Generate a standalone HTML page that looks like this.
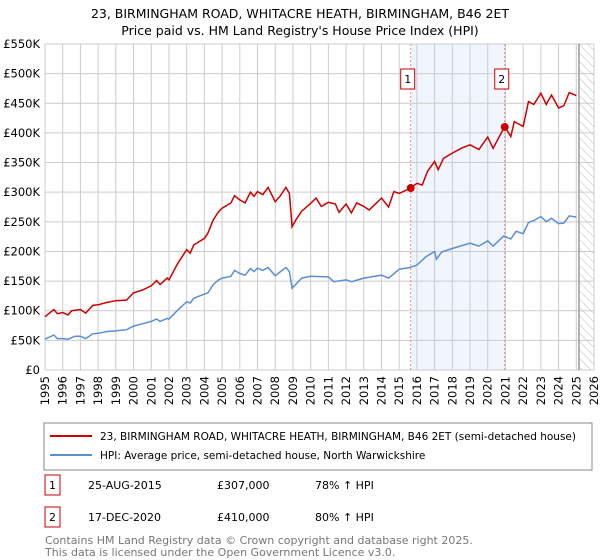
<!DOCTYPE html>
<html><head><meta charset="utf-8"><style>
body{margin:0;background:#fff;font-family:"Liberation Sans","DejaVu Sans",sans-serif;}
#wrap{position:relative;width:600px;height:560px;overflow:hidden;}
svg text{font-family:"DejaVu Sans","Liberation Sans",sans-serif;}
</style></head><body><div id="wrap">
<svg id="chart" width="600" height="560">
<text x="300" y="18" text-anchor="middle" font-size="12.5">23, BIRMINGHAM ROAD, WHITACRE HEATH, BIRMINGHAM, B46 2ET</text>
<text x="300" y="35" text-anchor="middle" font-size="12.5">Price paid vs. HM Land Registry's House Price Index (HPI)</text>
<g id="grid"></g><g id="marks"></g><g id="axes"></g>
<rect x="44" y="423" width="548" height="47" fill="none" stroke="#888"/>
<line x1="50" y1="436" x2="92" y2="436" stroke="#cc0000" stroke-width="2"/>
<text x="100" y="440" font-size="10.5" textLength="476" lengthAdjust="spacingAndGlyphs">23, BIRMINGHAM ROAD, WHITACRE HEATH, BIRMINGHAM, B46 2ET (semi-detached house)</text>
<line x1="50" y1="455" x2="92" y2="455" stroke="#5b8ed6" stroke-width="2"/>
<text x="100" y="459" font-size="10.5">HPI: Average price, semi-detached house, North Warwickshire</text>
<g font-size="11">
<rect x="45" y="475" width="15" height="20" fill="#fff" stroke="#cc0000"/><text x="52.5" y="489" text-anchor="middle">1</text>
<text x="88" y="489">25-AUG-2015</text><text x="217" y="489">£307,000</text><text x="315" y="489">78% ↑ HPI</text></g>
<g font-size="11">
<rect x="45" y="507" width="15" height="20" fill="#fff" stroke="#cc0000"/><text x="52.5" y="521" text-anchor="middle">2</text>
<text x="88" y="521">17-DEC-2020</text><text x="217" y="521">£410,000</text><text x="315" y="521">80% ↑ HPI</text></g>
<text x="45" y="544" font-size="11" fill="#777">Contains HM Land Registry data © Crown copyright and database right 2025.</text>
<text x="45" y="556" font-size="11" fill="#777">This data is licensed under the Open Government Licence v3.0.</text>
</svg>
<script>
const hpiDates=[1995,1995.5,1995.7,1996,1996.3,1996.7,1997,1997.3,1997.7,1998,1998.5,1999,1999.6,2000,2000.5,2001,2001.3,2001.5,2001.9,2002,2002.5,2003,2003.2,2003.4,2004,2004.2,2004.5,2004.8,2005,2005.5,2005.7,2006,2006.3,2006.6,2006.8,2007,2007.3,2007.6,2008,2008.3,2008.6,2008.8,2008.95,2009.5,2010,2011,2011.3,2012,2012.3,2013,2014,2014.4,2015,2015.6,2016,2016.5,2017,2017.1,2017.4,2018,2019,2019.5,2020,2020.3,2020.9,2021.3,2021.6,2022,2022.3,2022.6,2023,2023.3,2023.6,2024,2024.3,2024.6,2025];
const hpiValues=[52,59,53,53,52,57,57,53,61,62,65,66,68,74,78,82,86,82,87,86,101,115,113,121,128,130,144,152,155,158,168,163,160,171,166,172,168,173,159,166,173,166,138,155,158,157,149,152,149,155,160,155,170,173,177,191,200,187,199,205,214,209,218,209,226,221,234,230,249,252,259,250,256,247,248,260,258];
const priceDates=[1995,1995.5,1995.7,1996,1996.3,1996.5,1997,1997.3,1997.7,1998,1998.5,1999,1999.6,2000,2000.5,2001,2001.3,2001.5,2001.9,2002,2002.5,2003,2003.2,2003.4,2004,2004.2,2004.5,2004.8,2005,2005.5,2005.7,2006,2006.3,2006.6,2006.8,2007,2007.3,2007.6,2008,2008.3,2008.6,2008.8,2008.95,2009.2,2009.5,2010,2010.3,2010.6,2011,2011.4,2011.6,2012,2012.3,2012.6,2013,2013.3,2014,2014.4,2014.7,2015,2015.65,2016,2016.3,2016.6,2017,2017.2,2017.5,2018,2018.5,2019,2019.5,2020,2020.3,2020.96,2021.3,2021.5,2022,2022.3,2022.6,2023,2023.3,2023.6,2024,2024.3,2024.6,2025];
const priceValues=[90,102,95,97,93,100,102,96,109,110,114,117,118,130,135,142,151,144,155,152,180,203,197,211,222,231,253,267,273,282,294,287,282,300,293,301,296,308,284,294,308,298,242,255,268,281,290,276,283,280,266,280,265,282,276,270,290,275,301,298,307,315,312,335,352,338,357,366,374,380,372,393,374,411,394,419,411,453,448,467,448,464,442,446,468,463];
const sales=[{d:2015.65,v:307,label:"1"},{d:2020.96,v:410,label:"2"}];
const yTicks=[0,50,100,150,200,250,300,350,400,450,500,550];
const yLabels=["£0","£50K","£100K","£150K","£200K","£250K","£300K","£350K","£400K","£450K","£500K","£550K"];
const xYears=[1995,1996,1997,1998,1999,2000,2001,2002,2003,2004,2005,2006,2007,2008,2009,2010,2011,2012,2013,2014,2015,2016,2017,2018,2019,2020,2021,2022,2023,2024,2025,2026];
const L=45,R=594,T=44,B=370,X0=1995,X1=2026,YMAX=550;
const xs=d=>L+(d-X0)/(X1-X0)*(R-L);
const ys=v=>B-v/YMAX*(B-T);
const NS="http://www.w3.org/2000/svg";
function mk(tag,attrs,parent){const e=document.createElementNS(NS,tag);for(const k in attrs)e.setAttribute(k,attrs[k]);parent.appendChild(e);return e;}
const grid=document.getElementById('grid'),marks=document.getElementById('marks'),axes=document.getElementById('axes');
const shade=mk('rect',{x:xs(sales[0].d),y:T,width:xs(sales[1].d)-xs(sales[0].d),height:B-T,fill:'#eef3fc',opacity:0.8},grid);


const defs=mk('defs',{},grid);
const pat=mk('pattern',{id:'hatch',width:6,height:6,patternUnits:'userSpaceOnUse',patternTransform:'rotate(-45)'},defs);
mk('line',{x1:0,y1:0,x2:0,y2:6,stroke:'#bbb','stroke-width':1},pat);
const hx=xs(2025.15);
const hatch=mk('rect',{x:hx,y:T,width:R-hx,height:B-T,fill:'url(#hatch)'},grid);


yTicks.forEach((t,i)=>{
 const g=mk('line',{x1:L,x2:R,y1:ys(t),y2:ys(t),stroke:'#ccc'},grid);
 
 
 const tx=mk('text',{x:L-5,y:ys(t)+4,'text-anchor':'end','font-size':11.5},axes);
 tx.textContent=yLabels[i];
 
 
});
xYears.forEach(y=>{
 const g=mk('line',{x1:xs(y),x2:xs(y),y1:T,y2:B,stroke:'#ccc'},grid);
 
 
 const tx=mk('text',{x:0,y:0,'text-anchor':'end','font-size':11.5,transform:`translate(${xs(y)+4},${B+6}) rotate(-90)`},axes);
 tx.textContent=y;
 
 
});
const vl=mk('line',{x1:hx,x2:hx,y1:T,y2:B,stroke:'#999','stroke-width':1.5},grid);


sales.forEach(s=>{
 const l=mk('line',{x1:xs(s.d),x2:xs(s.d),y1:T,y2:B,stroke:'#e88','stroke-dasharray':'2,2'},grid);
 
 
});
const pts=(ds,vs)=>ds.map((d,i)=>xs(d).toFixed(1)+','+ys(vs[i]).toFixed(1)).join(' ');
const hl=mk('polyline',{points:pts(hpiDates,hpiValues),fill:'none',stroke:'#5b8ed6','stroke-width':1.5},marks);


const pl=mk('polyline',{points:pts(priceDates,priceValues),fill:'none',stroke:'#cc0000','stroke-width':1.5},marks);


sales.forEach(s=>{
 const c=mk('circle',{cx:xs(s.d),cy:ys(s.v),r:4,fill:'#cc0000'},marks);
 
 
 const b=mk('rect',{x:xs(s.d)-10,y:69,width:14,height:20,fill:'#fff',stroke:'#cc0000'},marks);
 
 
 const t=mk('text',{x:xs(s.d)-3,y:83,'text-anchor':'middle','font-size':11},marks);
 t.textContent=s.label;
 
 
});
</script>
</div></body></html>
